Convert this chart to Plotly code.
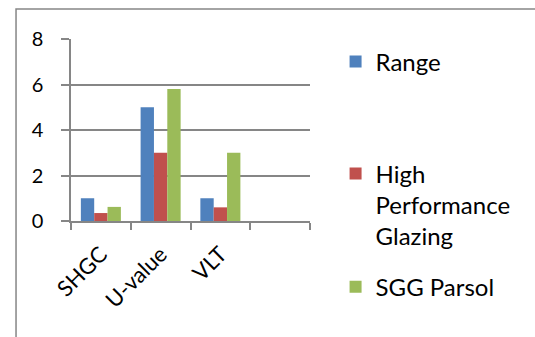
import plotly.graph_objects as go

categories = ["SHGC", "U-value", "VLT"]
axis_categories = ["SHGC", "U-value", "VLT", " "]
series_names = ["Range", "High<br>Performance<br>Glazing", "SGG Parsol"]
range_vals = [1, 5, 1]
hpg_vals = [0.35, 3, 0.6]
sgg_vals = [0.62, 5.8, 3]
colors = ["#4F81BD", "#C0504D", "#9BBB59"]
y_ticks = [0, 2, 4, 6, 8]

FONT = "Lato, Calibri, Carlito, sans-serif"
GRAY = "#868686"

fig = go.Figure()
legends = ["legend", "legend2", "legend3"]
for name, vals, col, lg in zip(series_names, [range_vals, hpg_vals, sgg_vals], colors, legends):
    fig.add_trace(go.Bar(x=categories, y=vals, name=name, marker=dict(color=col, line=dict(width=0)),
                         legend=lg, showlegend=True))

leg_common = dict(font=dict(family=FONT, size=24, color="#000000"), bgcolor="rgba(0,0,0,0)",
                  xanchor="left", yanchor="middle", valign="top", itemwidth=30, visible=True)

fig.update_layout(
    width=535, height=337,
    margin=dict(l=71, r=225, t=39, b=116),
    paper_bgcolor="white", plot_bgcolor="white",
    barmode="group", bargap=0.33, bargroupgap=0,
    showlegend=True,
    font=dict(family=FONT, color="#000000"),
    legend=dict(x=1.107, y=0.874, **leg_common),
    legend2=dict(x=1.107, y=0.088, **leg_common),
    legend3=dict(x=1.107, y=-0.363, **leg_common),
    xaxis=dict(
        type="category", categoryorder="array", categoryarray=axis_categories,
        range=[-0.5, 3.5], tickangle=-45, tickson="boundaries",
        ticks="outside", ticklen=7, tickwidth=1.5, tickcolor=GRAY,
        showline=True, linecolor=GRAY, linewidth=1.5,
        ticklabelstandoff=10,
        tickfont=dict(family=FONT, size=22, color="#000000"),
        showgrid=False,
    ),
    yaxis=dict(
        range=[0, 8], tickvals=y_ticks, ticks="outside", ticklen=8, tickwidth=1.5, tickcolor=GRAY,
        showline=True, linecolor=GRAY, linewidth=1.5,
        showgrid=True, gridcolor=GRAY, gridwidth=1.5, zeroline=False,
        ticklabelstandoff=14,
        tickfont=dict(family=FONT, size=20, color="#000000"),
    ),
    shapes=[dict(type="rect", xref="paper", yref="paper", x0=-0.230, x1=2.0, y0=-0.7, y1=1.165,
                 line=dict(color=GRAY, width=1.5), fillcolor="rgba(0,0,0,0)", layer="below")],
)

fig.write_html("out.html", config={"displayModeBar": False},
               post_script="document.body.style.margin='0';document.body.style.padding='0';")
